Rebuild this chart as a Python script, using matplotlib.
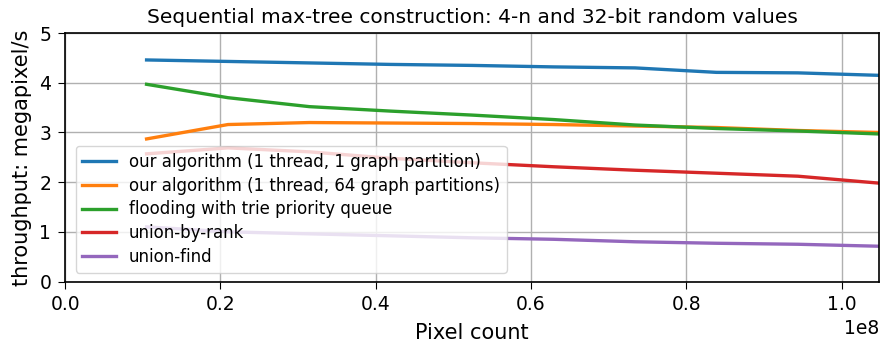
import numpy as np
import matplotlib
matplotlib.use("Agg")
import matplotlib.pyplot as plt

# Image sizes: 1..10 blocks of 1024*10240 pixels
pixel_counts = [k * 10485760 for k in range(1, 11)]

ours_1part = [4.46, 4.43, 4.40, 4.37, 4.35, 4.32, 4.30, 4.21, 4.20, 4.15]
ours_64part = [2.87, 3.16, 3.20, 3.19, 3.18, 3.16, 3.13, 3.10, 3.04, 3.00]
flooding_trie = [3.97, 3.70, 3.52, 3.43, 3.35, 3.26, 3.15, 3.08, 3.03, 2.97]
union_by_rank = [2.57, 2.69, 2.61, 2.48, 2.39, 2.31, 2.24, 2.18, 2.12, 1.98]
union_find = [1.10, 1.00, 0.96, 0.92, 0.88, 0.85, 0.80, 0.77, 0.75, 0.71]

series = [
    ("our algorithm (1 thread, 1 graph partition)", ours_1part),
    ("our algorithm (1 thread, 64 graph partitions)", ours_64part),
    ("flooding with trie priority queue", flooding_trie),
    ("union-by-rank", union_by_rank),
    ("union-find", union_find),
]

plt.rcParams["font.family"] = ["DejaVu Sans"]
plt.rcParams["font.size"] = 13.5

fig = plt.figure(figsize=(8.83, 3.45), dpi=100)
ax = fig.add_axes([0.0738, 0.184, 0.9220, 0.720])

for label, values in series:
    ax.plot(pixel_counts, values, label=label, linewidth=2.4)

ax.set_xlim(0, pixel_counts[-1])
ax.set_ylim(0, 5)
ax.grid(True, color="#b0b0b0", linewidth=1.0)
ax.set_axisbelow(True)
ax.tick_params(labelsize=13.5, length=5, pad=5)
ax.xaxis.get_offset_text().set_fontsize(13.5)
ax.set_title("Sequential max-tree construction: 4-n and 32-bit random values",
             fontsize=14.5, pad=7)
ax.set_xlabel("Pixel count", fontsize=15, labelpad=6.5)
ax.set_ylabel("throughput: megapixel/s", fontsize=15, labelpad=5)
for spine in ax.spines.values():
    spine.set_linewidth(1.2)
ax.legend(loc="lower left", fontsize=12, labelspacing=0.35,
          bbox_to_anchor=(0.013, 0.035), borderaxespad=0)

fig.savefig("out.png", dpi=100)
